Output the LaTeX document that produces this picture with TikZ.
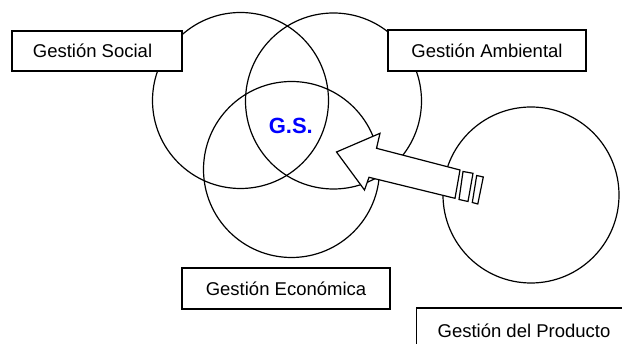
\documentclass[tikz,border=0pt]{standalone}
\usepackage{fontspec}
\setmainfont{Liberation Sans}
\begin{document}
\begin{tikzpicture}[x=1pt,y=-1pt,
  ring/.style={circle,draw=black,line width=1.2pt,minimum size=176pt,inner sep=0pt},
  labelbox/.style={rectangle,draw=black,fill=white,line width=1.4pt,inner sep=0pt,
    font=\fontsize{18.5}{22}\selectfont},
  blockarrow/.style={draw=black,fill=white,line width=1.2pt,line join=miter}]
\useasboundingbox (0,0) rectangle (622,344);
\clip (0,0) rectangle (622,344);
% circles
\node[ring] (soc) at (240.5,100.5) {};
\node[ring] (amb) at (333.5,101) {};
\node[ring] (eco) at (291.5,169.5) {};
\node[ring] (prod) at (531,195) {};
% centre label
\node[text=blue,font=\fontsize{22}{26}\selectfont\bfseries] (gs) at (290.8,125.5) {G.S.};
% labels
\node[labelbox,minimum width=170pt,minimum height=40pt] (lsoc) at (97,51) {\hspace*{-9pt}Gestión Social};
\node[labelbox,minimum width=198pt,minimum height=41pt] (lamb) at (487,50.5) {Gestión Ambiental};
\node[labelbox,minimum width=208pt,minimum height=41pt] (leco) at (286,288.5) {Gestión Económica};
\node[labelbox,minimum width=215pt,minimum height=46pt] (lprod) at (524,331) {Gestión del Producto};
% striped block arrow
\draw[blockarrow] (336.5,152) -- (380,133.3) -- (376.5,148.3) -- (460,170)
  -- (455,198.3) -- (369,177.3) -- (364.5,190) -- cycle;
\draw[blockarrow] (463,171.5) -- (473,173.3) -- (468,201.5) -- (459,199.5) -- cycle;
\draw[blockarrow] (476.7,175.5) -- (483.3,177) -- (477.8,204) -- (472.3,202.5) -- cycle;
\end{tikzpicture}
\end{document}
